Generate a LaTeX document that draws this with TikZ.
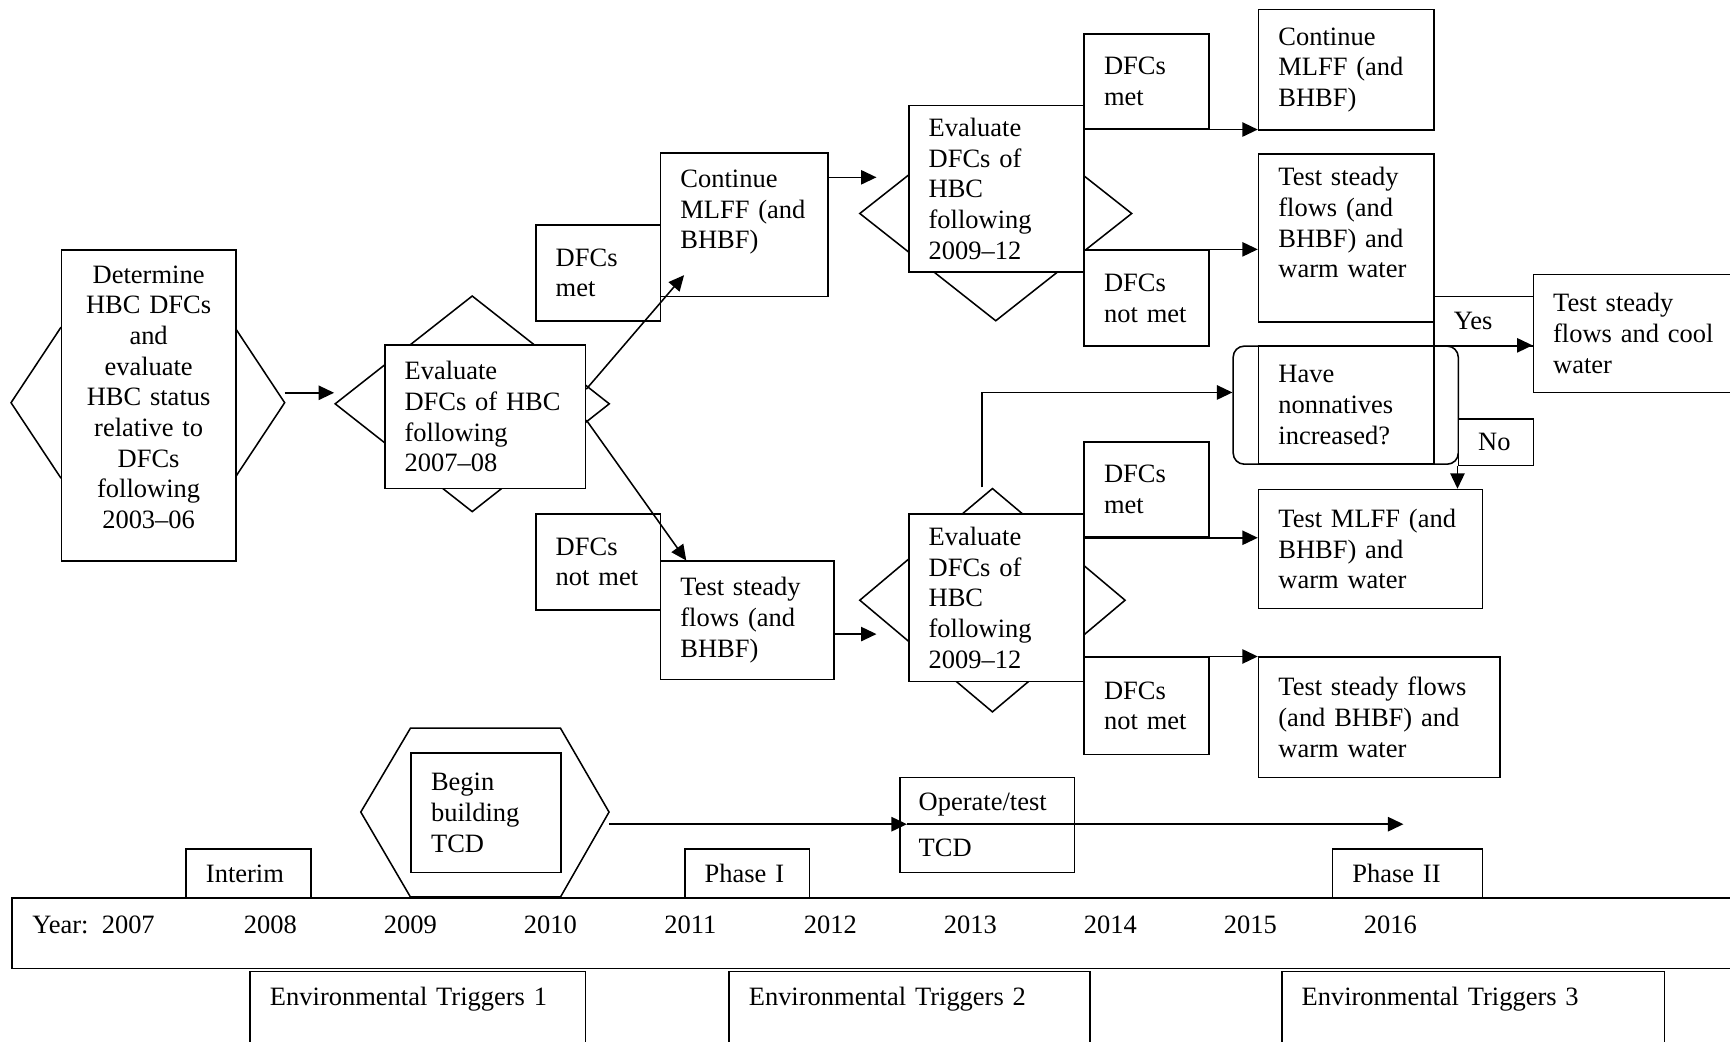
\documentclass[tikz,border=0pt]{standalone}
\usepackage{fontspec}
\setmainfont{Liberation Serif}
\usepackage{tikz}
\usetikzlibrary{arrows.meta,shapes.geometric}

\tikzset{
  tb/.style 2 args={draw, fill=white, anchor=north west, align=left,
    inner xsep=9pt, inner ysep=0pt, text width=#1, minimum height=#2},
  cb/.style 2 args={tb={#1}{#2}, align=center},
  envbox/.style={draw, fill=white, anchor=north west, align=left,
    inner xsep=9pt, inner ysep=3pt, text height=12.5pt, text depth=40pt, text width=#1},
  dia/.style 2 args={draw, fill=white, diamond, inner sep=0pt,
    minimum width=#1, minimum height=#2},
  arr/.style={-{Triangle[length=7pt,width=6.5pt]}},
}

\begin{document}
\begin{tikzpicture}[x=0.5pt, y=-0.5pt, line width=0.7pt, font=\fontsize{12}{13.9}\selectfont]
\useasboundingbox (0,0) rectangle (1568,944);
\clip (0,0) rectangle (1568,944);
%
\draw[fill=white] (10,365) -- (55,297) -- (213,297) -- (258,365) -- (213,433) -- (55,433) -- cycle;
\node[dia={124.5pt}{98pt}] (dia1) at (428,366) {};
\node[dia={123.5pt}{97.5pt}] (dia2) at (902.5,193.5) {};
\node[dia={120.5pt}{101.5pt}] (dia3) at (899.5,544) {};
\draw[fill=white] (327,736) -- (372,660) -- (508,660) -- (552,736) -- (508,813) -- (372,813) -- cycle;
%
\node[cb={61pt}{141pt}] (det) at (55,226) {Determine\\HBC DFCs\\and\\evaluate\\HBC status\\relative to\\DFCs\\following\\2003--06\\[-6pt]\mbox{}};
\node[tb={73pt}{65pt}] (ev1) at (348,312) {Evaluate\\DFCs of HBC\\following\\2007--08};
\node[tb={38.5pt}{43.5pt}] (met1) at (485,203) {DFCs\\met};
\node[tb={58pt}{65pt}] (cont1) at (598,138) {Continue\\MLFF (and\\BHBF)\\\mbox{}};
\node[tb={38.5pt}{43.5pt}] (notmet1) at (485,465) {DFCs\\not met};
\node[tb={60.5pt}{53.5pt}] (steady1) at (598,508) {Test steady\\flows (and\\BHBF)};
%
\node[tb={61.5pt}{75.5pt}] (ev2) at (823,95) {Evaluate\\DFCs of\\HBC\\following\\2009--12};
\node[tb={38.5pt}{43pt}] (met2) at (982,30) {DFCs\\met};
\node[tb={38.5pt}{43.5pt}] (notmet2) at (982,226) {DFCs\\not met};
\node[tb={61.5pt}{54.5pt}] (cont2) at (1140,8) {Continue\\MLFF (and\\BHBF)};
\node[tb={61.5pt}{76pt}] (steady2) at (1140,139) {Test steady\\flows (and\\BHBF) and\\warm water\\\mbox{}};
\node[tb={77pt}{53.5pt}] (cool) at (1389,248) {Test steady\\flows and cool\\water};
\node[tb={27pt}{22.5pt}] (yes) at (1299,268) {Yes};
\node[draw, fill=white, rounded corners=5pt, anchor=north west,
  minimum width=102pt, minimum height=53.5pt] (qr) at (1117,313) {};
\node[tb={61.5pt}{53.5pt}] (q) at (1140,313) {Have\\nonnatives\\increased?};
\node[tb={16pt}{21pt}] (no) at (1321,379) {No};
%
\node[tb={61.5pt}{76pt}] (ev3) at (823,465) {Evaluate\\DFCs of\\HBC\\following\\2009--12};
\node[tb={38.5pt}{43pt}] (met3) at (982,400) {DFCs\\met};
\node[tb={38.5pt}{44pt}] (notmet3) at (982,595) {DFCs\\not met};
\node[tb={83.5pt}{54pt}] (mlff) at (1140,443) {Test MLFF (and\\BHBF) and\\warm water};
\node[tb={91.5pt}{54.5pt}] (steady3) at (1140,595) {Test steady flows\\(and BHBF) and\\warm water};
%
\node[draw, anchor=north west, minimum width=800pt, minimum height=32pt] (tl) at (10,813) {};
\node[anchor=west] (y2007) at (22,838) {Year:\ \ 2007};
\foreach \yr [count=\i from 0] in {2008,...,2016}
  \node (y\yr) at ({245+126.9*\i},838) {\yr};
\node[tb={38.5pt}{22pt}] (interim) at (168,769) {Interim};
\node[tb={50pt}{54pt}] (tcd) at (372,682) {Begin\\building\\TCD};
\node[tb={38.5pt}{22pt}] (ph1) at (620,769) {Phase I};
\node[tb={62pt}{43pt}, inner xsep=8.5pt] (op) at (815,704) {Operate/test\\[6.6pt]TCD};
\node[tb={50pt}{22pt}] (ph2) at (1207,769) {Phase II};
\node[envbox=134pt] (env1) at (226,880) {Environmental Triggers 1};
\node[envbox=145.5pt] (env2) at (660,880) {Environmental Triggers 2};
\node[envbox=155.5pt] (env3) at (1161,880) {Environmental Triggers 3};
%
\coordinate (detR) at (258,356);
\draw[arr] (detR) -- (detR -| dia1.west);
\draw[arr] ([yshift=12.5pt]ev1.east) -- ([xshift=11pt,yshift=10pt]cont1.south west);
\draw[arr] ([yshift=-1.5pt]ev1.east) -- ([xshift=12pt]steady1.north west);
\draw[arr] ([yshift=21.5pt]cont1.east) -- ++(43,0);
\draw[arr] ([yshift=-6.25pt]steady1.east) -- ++(38,0);
\draw[arr] (met2.south west) -- (met2.south west -| cont2.west);
\draw[arr] (notmet2.north west) -- (notmet2.north west -| steady2.west);
\draw[arr] (met3.south west) -- (met3.south west -| mlff.west);
\draw[arr] (notmet3.north west) -- (notmet3.north west -| steady3.west);
\draw[arr] ([xshift=-4.75pt]dia3.north) |- ([yshift=5.75pt]qr.west);
\draw[arr] (q.north east) -- (q.north east -| cool.west);
\draw[arr] (no.south west) -- (no.south west |- mlff.north);
\coordinate (tcdR) at (552,747);
\coordinate (opIn) at (op.west |- tcdR);
\coordinate (tcdEnd) at (1272,747);
\draw[arr] (tcdR) -- ([xshift=3.5pt]opIn);
\draw[arr] ([xshift=3.5pt]opIn) -- (tcdEnd);
\end{tikzpicture}
\end{document}
